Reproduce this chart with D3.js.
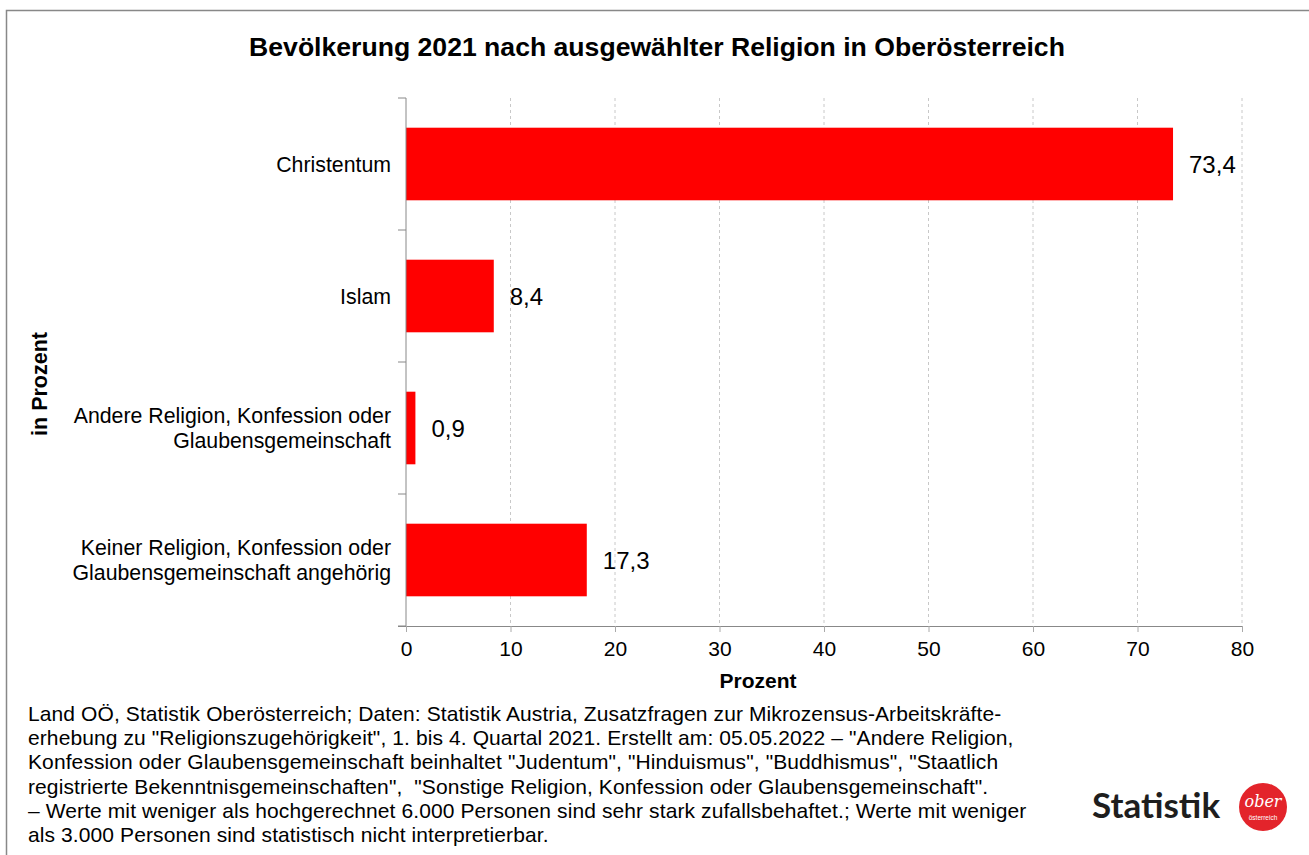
<!DOCTYPE html>
<html>
<head>
<meta charset="utf-8">
<script src="https://cdn.jsdelivr.net/npm/d3@7.9.0/dist/d3.min.js"></script>
<style>
  body { margin: 0; background: #fff; }
  svg { font-family: "Liberation Sans", Arial, sans-serif; }
  .foot { white-space: pre; }
</style>
</head>
<body>
<svg width="1309" height="855"></svg>
<script>
// data
const categories = [
  ['Christentum'],
  ['Islam'],
  ['Andere Religion, Konfession oder', 'Glaubensgemeinschaft'],
  ['Keiner Religion, Konfession oder', 'Glaubensgemeinschaft angehörig']
];
const values = [73.4, 8.4, 0.9, 17.3];
const xTicks = [0, 10, 20, 30, 40, 50, 60, 70, 80];

const footnote = [
  'Land OÖ, Statistik Oberösterreich; Daten: Statistik Austria, Zusatzfragen zur Mikrozensus-Arbeitskräfte-',
  'erhebung zu "Religionszugehörigkeit", 1. bis 4. Quartal 2021. Erstellt am: 05.05.2022 – "Andere Religion,',
  'Konfession oder Glaubensgemeinschaft beinhaltet "Judentum", "Hinduismus", "Buddhismus", "Staatlich',
  'registrierte Bekenntnisgemeinschaften",  "Sonstige Religion, Konfession oder Glaubensgemeinschaft".',
  '– Werte mit weniger als hochgerechnet 6.000 Personen sind sehr stark zufallsbehaftet.; Werte mit weniger',
  'als 3.000 Personen sind statistisch nicht interpretierbar.'
];

const svg = d3.select('svg');

// outer frame (runs off the right/bottom edge like the original)
svg.append('rect')
  .attr('x', 6.5).attr('y', 10.5)
  .attr('width', 1320).attr('height', 860)
  .attr('fill', 'none').attr('stroke', '#888').attr('stroke-width', 1.5);

const plotL = 406, plotR = 1242, plotT = 98, plotB = 626;

const x = d3.scaleLinear().domain([0, 80]).range([plotL, plotR]);
const y = d3.scaleBand().domain(d3.range(categories.length)).range([plotT, plotB]).paddingInner(0.45).paddingOuter(0.225);

// gridlines
svg.append('g').selectAll('line')
  .data(xTicks.slice(1))
  .join('line')
  .attr('x1', d => x(d)).attr('x2', d => x(d))
  .attr('y1', plotT).attr('y2', plotB)
  .attr('stroke', '#c8c8c8').attr('stroke-dasharray', '3,3');

// bars
svg.append('g').selectAll('rect')
  .data(values)
  .join('rect')
  .attr('x', x(0))
  .attr('y', (d, i) => y(i))
  .attr('width', d => x(d) - x(0))
  .attr('height', y.bandwidth())
  .attr('fill', '#ff0000');

// value labels
svg.append('g').selectAll('text')
  .data(values)
  .join('text')
  .attr('x', d => x(d) + 16)
  .attr('y', (d, i) => y(i) + y.bandwidth() / 2)
  .attr('dy', '0.36em')
  .attr('font-size', 24)
  .text(d => d.toFixed(1).replace('.', ','));

// x axis
const xAxis = svg.append('g')
  .attr('transform', `translate(0,${plotB})`)
  .call(d3.axisBottom(x).tickValues(xTicks).tickSize(6).tickPadding(9).tickFormat(d => d));
xAxis.select('.domain').attr('stroke', '#888').attr('d', `M${plotL - 8},0.5H${plotR}`);
xAxis.selectAll('.tick line').attr('stroke', '#aaa');
xAxis.selectAll('.tick text').attr('font-size', 21).attr('fill', '#000');

// y axis (category boundaries as ticks)
const bounds = d3.range(categories.length + 1).map(i => plotT + i * (plotB - plotT) / categories.length);
svg.append('line')
  .attr('x1', plotL).attr('x2', plotL).attr('y1', plotT).attr('y2', plotB)
  .attr('stroke', '#888');
svg.append('g').selectAll('line')
  .data(bounds)
  .join('line')
  .attr('x1', plotL - 8).attr('x2', plotL)
  .attr('y1', d => d).attr('y2', d => d)
  .attr('stroke', '#888');

// category labels
const catG = svg.append('g').selectAll('text')
  .data(categories)
  .join('text')
  .attr('text-anchor', 'end')
  .attr('font-size', 21.3)
  .attr('transform', (d, i) => `translate(391,${y(i) + y.bandwidth() / 2})`);
catG.selectAll('tspan')
  .data(d => d.map((t, j) => ({ t, j, n: d.length })))
  .join('tspan')
  .attr('x', 0)
  .attr('y', d => (d.j - (d.n - 1) / 2) * 24.5)
  .attr('dy', '0.36em')
  .text(d => d.t);

// title
svg.append('text')
  .attr('x', 657).attr('y', 56)
  .attr('text-anchor', 'middle')
  .attr('font-size', 26.6).attr('font-weight', 'bold')
  .text('Bevölkerung 2021 nach ausgewählter Religion in Oberösterreich');

// axis titles
svg.append('text')
  .attr('x', 758).attr('y', 688)
  .attr('text-anchor', 'middle')
  .attr('font-size', 21).attr('font-weight', 'bold')
  .text('Prozent');
svg.append('text')
  .attr('transform', `translate(47,384) rotate(-90)`)
  .attr('text-anchor', 'middle')
  .attr('font-size', 21.5).attr('font-weight', 'bold')
  .text('in Prozent');

// footnote
svg.append('g').selectAll('text')
  .data(footnote)
  .join('text')
  .attr('class', 'foot')
  .attr('x', 28)
  .attr('y', (d, i) => 721 + i * 24.2)
  .attr('font-size', 21)
  .attr('letter-spacing', 0.1)
  .text(d => d);

// logo
svg.append('text')
  .attr('x', 1092).attr('y', 818)
  .attr('font-family', 'Lato, "Open Sans", sans-serif')
  .attr('font-size', 35).attr('font-weight', 'bold').attr('fill', '#1e1e1e')
  .text('Statistik');
svg.append('circle')
  .attr('cx', 1263).attr('cy', 807).attr('r', 24)
  .attr('fill', '#e3242b');
svg.append('text')
  .attr('x', 1263).attr('y', 807)
  .attr('text-anchor', 'middle')
  .attr('font-family', '"DejaVu Serif", serif').attr('font-style', 'italic')
  .attr('font-size', 16).attr('fill', '#fff')
  .text('ober');
svg.append('text')
  .attr('x', 1263).attr('y', 820)
  .attr('text-anchor', 'middle')
  .attr('font-size', 6.5).attr('fill', '#fff')
  .text('österreich');
</script>
</body>
</html>
